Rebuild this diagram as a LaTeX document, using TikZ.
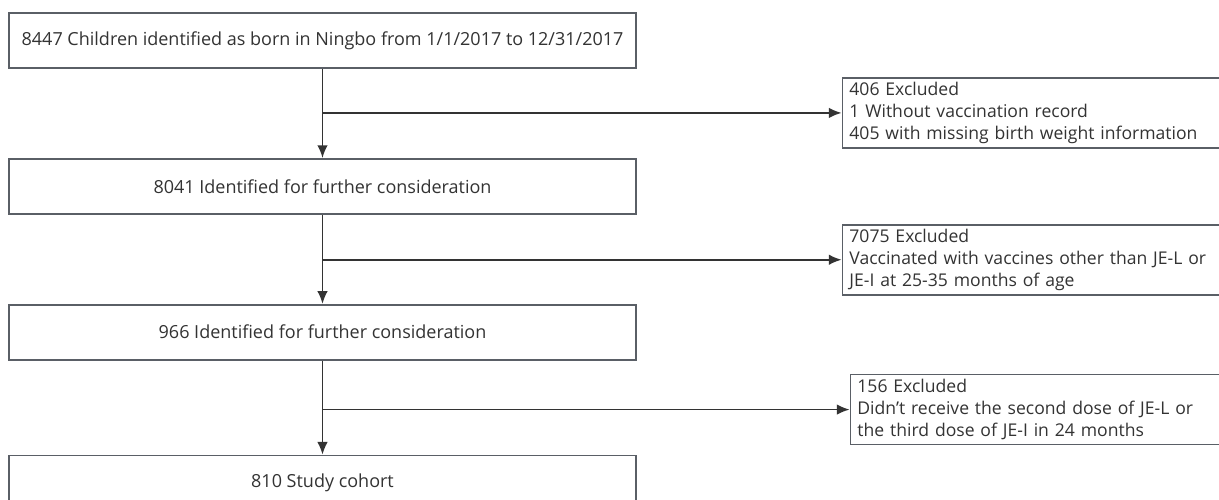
\documentclass[tikz,border=0pt]{standalone}
\usepackage{fontspec}
\setmainfont{Open Sans}
\usepackage{tikz}
\usetikzlibrary{arrows.meta}
\usetikzlibrary{calc}
\usetikzlibrary{positioning}
\definecolor{boxgray}{HTML}{5A5F66}
\definecolor{linegray}{HTML}{333333}
\tikzstyle{block} = [draw=boxgray, line width=1.3pt, fill=white, rectangle, text=linegray,
minimum height=1.375cm, minimum width=15.675cm, font=\fontsize{12.8}{15.6}\selectfont]
\tikzstyle{excl} = [draw=boxgray, line width=1.3pt, fill=white, rectangle, text=linegray,
minimum height=1.75cm, text width=9.35cm, align=left, inner xsep=0.175cm,
inner ysep=0pt, font=\fontsize{12.5}{15.6}\selectfont]
\tikzstyle{point} = [coordinate]
\tikzstyle{conn} = [draw=linegray, line width=1.1pt]

\begin{document}
\begin{tikzpicture}[auto, node distance=2.225cm,>={Latex[length=9pt,width=7.5pt]}]
		\clip (0,0) rectangle (30.475,-12.5);
		\node [block] (born) at (8.0625,-1.0125) {8447 Children identified as born in Ningbo from 1/1/2017 to 12/31/2017};
		\node [block] (ident1) [below=2.225cm of born] {8041 Identified for further consideration};
		\node [block] (ident2) [below=2.225cm of ident1] {966 Identified for further consideration};
		\node [block] (cohort) [below=2.35cm of ident2] {810 Study cohort};
		
		\node [point] (p1) [below=1.1cm of born]{};
		\node [point] (p2) [below=1.125cm of ident1]{};
		\node [point] (p3) [below=1.225cm of ident2]{};
		
		\node [excl] (excl1) [right=12.975cm of p1] {406 Excluded\\1 Without vaccination record\\405 with missing birth weight information};
		\node [excl] (excl2) [right=12.975cm of p2] {7075 Excluded\\Vaccinated with vaccines other than JE-L or\\JE-I at 25-35 months of age};
		\node [excl] (excl3) [right=13.175cm of p3] {156 Excluded\\Didn't receive the second dose of JE-L or\\the third dose of JE-I in 24 months};
		
		\draw [conn,->] (born) -- (ident1);
		\draw [conn,->] (ident1) -- (ident2);
		\draw [conn,->] (ident2) -- (cohort);
		
		\draw [conn,->] (p1) -- (p1-|excl1.west);
		\draw [conn,->] (p2) -- (p2-|excl2.west);
		\draw [conn,->] (p3) -- (p3-|excl3.west);
	\end{tikzpicture}
\end{document}
